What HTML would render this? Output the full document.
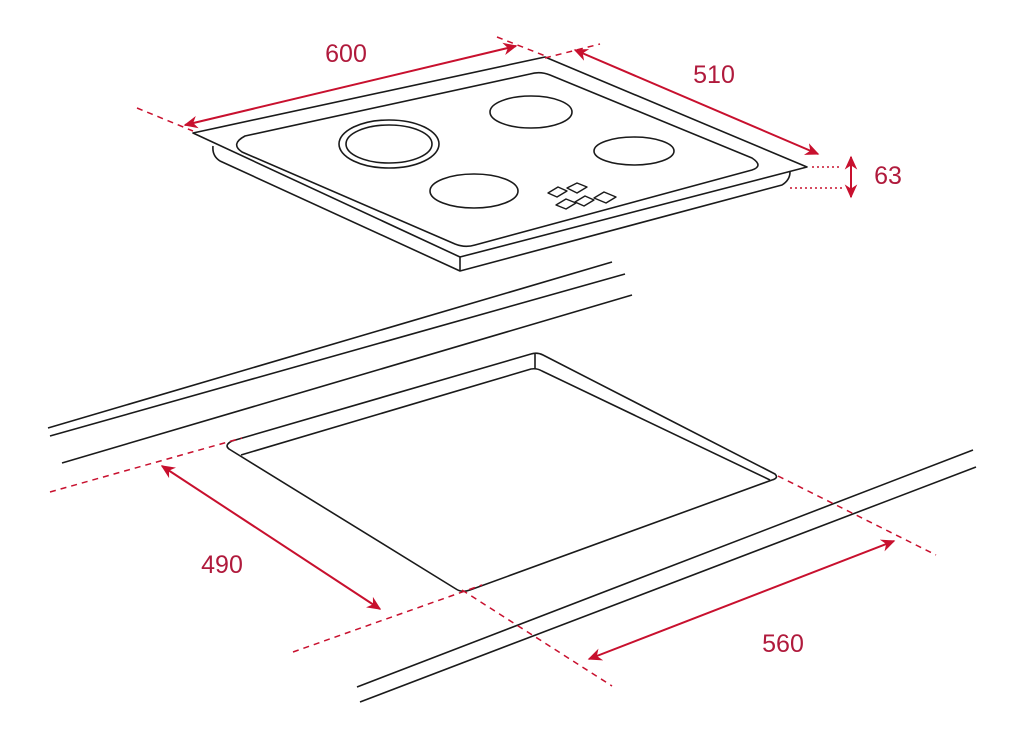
<!DOCTYPE html>
<html><head><meta charset="utf-8"><style>
html,body{margin:0;padding:0;background:#fff;width:1024px;height:737px;overflow:hidden}
svg{display:block}
text{font-family:"Liberation Sans",sans-serif;font-size:25px;fill:#b01a3c}
</style></head><body>
<svg width="1024" height="737" viewBox="0 0 1024 737">
<defs>
<marker id="a" viewBox="0 0 10 10" refX="9" refY="5" markerWidth="14" markerHeight="14" orient="auto-start-reverse" markerUnits="userSpaceOnUse">
<path d="M0,0.5 L10,5 L0,9.5 L3,5 z" fill="#c8102e"/></marker>
</defs>
<g fill="none" stroke="#1a1a1a" stroke-width="1.6" stroke-linejoin="round">
<path d="M193,133 L545,57 L807,167 L460,257 Z"/>
<path d="M213,146 Q212,156 220,161 L460,271 L782,185 Q790,180 790,172"/>
<line x1="460" y1="257" x2="460" y2="271"/>
<path d="M245,136 L530,74 Q540,71 550,75 L752,158 Q764,166 752,170 L475,245 Q465,248 455,244 L242,152 Q230,144 245,136 Z"/>
<ellipse cx="389" cy="144" rx="50" ry="24"/>
<ellipse cx="389" cy="144" rx="43" ry="19"/>
<ellipse cx="531" cy="112" rx="41" ry="16"/>
<ellipse cx="474" cy="191" rx="44" ry="17"/>
<ellipse cx="634" cy="151" rx="40" ry="14"/>
<g stroke-width="1.4">
<polygon points="548,193 558,187 567,191 557,197"/>
<polygon points="567,188 577,183 587,187 577,193"/>
<polygon points="556,205 566,199 576,203 566,209"/>
<polygon points="575,202 585,196 594,200 584,206"/>
<polygon points="594,198 604,192 616,197 606,203"/>
</g>
<line x1="48" y1="428" x2="612" y2="262"/>
<line x1="50" y1="436" x2="625" y2="274"/>
<line x1="62" y1="463" x2="632" y2="295"/>
<line x1="357" y1="687" x2="973" y2="450"/>
<line x1="360" y1="702" x2="976" y2="467"/>
<path d="M232,441 L531,354 Q537,352 543,355 L775,474 Q779,478 772,480 L470,590 Q462,593 456,589 L229,449 Q224,445 232,441 Z"/>
<path d="M241,455 L531,369 Q537,368 542,371 L770,480"/>
<line x1="535" y1="354" x2="535" y2="369"/>
</g>
<g stroke="#c8102e" stroke-width="1.5" fill="none" stroke-dasharray="6,5">
<line x1="137" y1="108" x2="193" y2="131"/>
<line x1="497" y1="37" x2="548" y2="57"/>
<line x1="545" y1="58" x2="600" y2="44"/>
<line x1="50" y1="492" x2="242" y2="438"/>
<line x1="293" y1="652" x2="482" y2="585"/>
<line x1="462" y1="590" x2="612" y2="686"/>
<line x1="778" y1="476" x2="936" y2="555"/>
</g>
<g stroke="#c8102e" stroke-width="1.5" stroke-dasharray="2,3">
<line x1="812" y1="167" x2="842" y2="167"/>
<line x1="790" y1="188" x2="842" y2="188"/>
</g>
<g stroke="#c8102e" stroke-width="2" fill="none">
<line x1="185" y1="125" x2="516" y2="46" marker-start="url(#a)" marker-end="url(#a)"/>
<line x1="575" y1="50" x2="818" y2="154" marker-start="url(#a)" marker-end="url(#a)"/>
<line x1="851" y1="157" x2="851" y2="197" marker-start="url(#a)" marker-end="url(#a)"/>
<line x1="162" y1="466" x2="380" y2="609" marker-start="url(#a)" marker-end="url(#a)"/>
<line x1="589" y1="659" x2="894" y2="541" marker-start="url(#a)" marker-end="url(#a)"/>
</g>
<text x="346" y="62" text-anchor="middle">600</text>
<text x="714" y="83" text-anchor="middle">510</text>
<text x="888" y="184" text-anchor="middle">63</text>
<text x="222" y="573" text-anchor="middle">490</text>
<text x="783" y="652" text-anchor="middle">560</text>
</svg>
</body></html>
